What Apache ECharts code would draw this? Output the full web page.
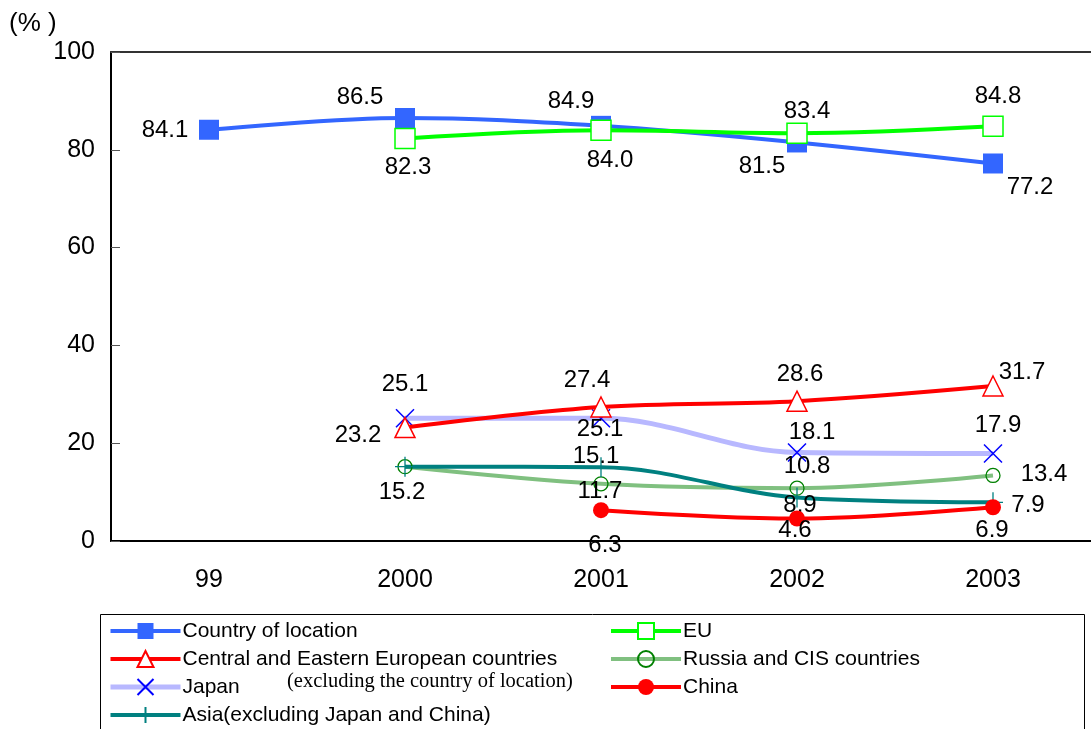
<!DOCTYPE html>
<html>
<head>
<meta charset="utf-8">
<script src="https://cdn.jsdelivr.net/npm/echarts@6/dist/echarts.min.js"></script>
<style>html,body{margin:0;padding:0;background:#fff}#c{width:1091px;height:729px}</style>
</head>
<body>
<div id="c"></div>
<script>
var categories = ['99', '2000', '2001', '2002', '2003'];
var yTicks = [0, 20, 40, 60, 80, 100];
var countryOfLocation = [84.1, 86.5, 84.9, 81.5, 77.2];
var eu = [null, 82.3, 84.0, 83.4, 84.8];
var centralEastEurope = [null, 23.2, 27.4, 28.6, 31.7];
var russiaCIS = [null, 15.2, 11.7, 10.8, 13.4];
var japan = [null, 25.1, 25.1, 18.1, 17.9];
var china = [null, null, 6.3, 4.6, 6.9];
var asiaOther = [null, 15.2, 15.1, 8.9, 7.9];

// label offsets (relative to point), style only
var labelOffsets = {
  country: [[-44, 1], [-45, -21], [-30, -24], [-35, 24], [37, 24]],
  eu: [null, [3, 29], [9, 30], [10, -22], [5, -30]],
  cee: [null, [-47, 8], [-14, -27], [3, -27], [29, -14]],
  russia: [null, [-3, 26], [-1, 8], [10, -22], [51, -1]],
  japan: [null, [0, -34], [-1, 11], [15, -20], [5, -28]],
  china: [null, null, [4, 35], [-2, 12], [-1, 23]],
  asia: [null, null, [-5, -11], [3, 8], [35, 3]]
};

function build(values, key) {
  return values.map(function (v, i) {
    if (v === null) return null;
    var off = labelOffsets[key][i];
    if (!off) return { value: v, label: { show: false } };
    return { value: v, label: { show: true, position: 'inside', offset: off } };
  });
}

var FONT = 'Liberation Sans, Arial, sans-serif';
var labelStyle = { color: '#000', fontSize: 24, fontFamily: FONT, formatter: function (p) { return p.value.toFixed(1); } };

var X_PATH = 'path://M0,0L20,20M20,0L0,20';
var PLUS_PATH = 'path://M10,0L10,20M0,10L20,10';

function series(name, data, key, lineColor, lineWidth, symbol, size, fill, border, bw, z) {
  return {
    name: name, type: 'line', smooth: 0.35, z: z,
    data: build(data, key),
    symbol: symbol, symbolSize: size,
    lineStyle: { color: lineColor, width: lineWidth },
    itemStyle: { color: fill, borderColor: border, borderWidth: bw },
    label: labelStyle,
    emphasis: { disabled: true }
  };
}

var legendCommon = {
  orient: 'vertical', top: 620, padding: 0, itemWidth: 70, itemHeight: 20, itemGap: 6,
  lineStyle: { width: 'inherit' },
  textStyle: { fontSize: 21, fontFamily: FONT, color: '#000', lineHeight: 22, padding: [0, 0, 0, -3] }
};

var chart = echarts.init(document.getElementById('c'));
chart.setOption({
  animation: false,
  grid: { left: 111, right: 0, top: 52, bottom: 188 },
  graphic: [
    { type: 'text', left: 9, top: 11, style: { text: '(% )', fontSize: 26, fontFamily: FONT, fill: '#000' } },
    { type: 'rect', shape: { x: 100.5, y: 614.5, width: 984, height: 130 }, style: { fill: 'none', stroke: '#000', lineWidth: 1 }, z: 0 },
    { type: 'text', left: 287, top: 671, style: { text: '(excluding the country of location)', fontSize: 20.5, fontFamily: 'Liberation Serif, serif', fill: '#000' } }
  ],
  legend: [
    Object.assign({}, legendCommon, {
      left: 108,
      data: ['Country of location', 'Central and Eastern European countries', 'Japan', 'Asia(excluding Japan and China)']
    }),
    Object.assign({}, legendCommon, {
      left: 609,
      data: ['EU', 'Russia and CIS countries', 'China']
    })
  ],
  xAxis: [
    {
      type: 'category', data: categories, boundaryGap: true,
      axisLine: { lineStyle: { color: '#000', width: 2 } },
      axisTick: { inside: true, length: 8, lineStyle: { color: '#000' } },
      axisLabel: { color: '#000', fontSize: 25, fontFamily: FONT, margin: 27 },
      splitLine: { show: false }
    },
    {
      type: 'category', data: categories, position: 'top',
      axisLine: { lineStyle: { color: '#333', width: 2 } },
      axisTick: { show: false }, axisLabel: { show: false }
    }
  ],
  yAxis: {
    type: 'value', min: yTicks[0], max: yTicks[yTicks.length - 1], interval: 20,
    axisLine: { show: true, lineStyle: { color: '#000', width: 2 } },
    axisTick: { show: true, inside: true, length: 9, lineStyle: { color: '#555' } },
    axisLabel: { color: '#000', fontSize: 25, fontFamily: FONT, margin: 16 },
    splitLine: { show: false }
  },
  series: [
    series('Country of location', countryOfLocation, 'country', '#3366ff', 4, 'rect', 20, '#3366ff', '#3366ff', 0, 3),
    series('EU', eu, 'eu', '#00ff00', 4, 'rect', 20, '#ffffff', '#00ff00', 1.5, 4),
    series('Central and Eastern European countries', centralEastEurope, 'cee', '#ff0000', 4, 'triangle', 20, '#ffffff', '#ff0000', 1.5, 4),
    series('Russia and CIS countries', russiaCIS, 'russia', '#80c080', 4, 'circle', 14, 'rgba(255,255,255,0)', '#008000', 1.3, 3),
    series('Japan', japan, 'japan', '#b8b8ff', 5, X_PATH, 18, 'rgba(0,0,0,0)', '#0000ff', 1.5, 2),
    series('China', china, 'china', '#ff0000', 4, 'circle', 16, '#ff0000', '#ff0000', 0, 4),
    series('Asia(excluding Japan and China)', asiaOther, 'asia', '#008080', 4, PLUS_PATH, 20, 'rgba(0,0,0,0)', '#008080', 1.3, 3)
  ]
});
</script>
</body>
</html>
